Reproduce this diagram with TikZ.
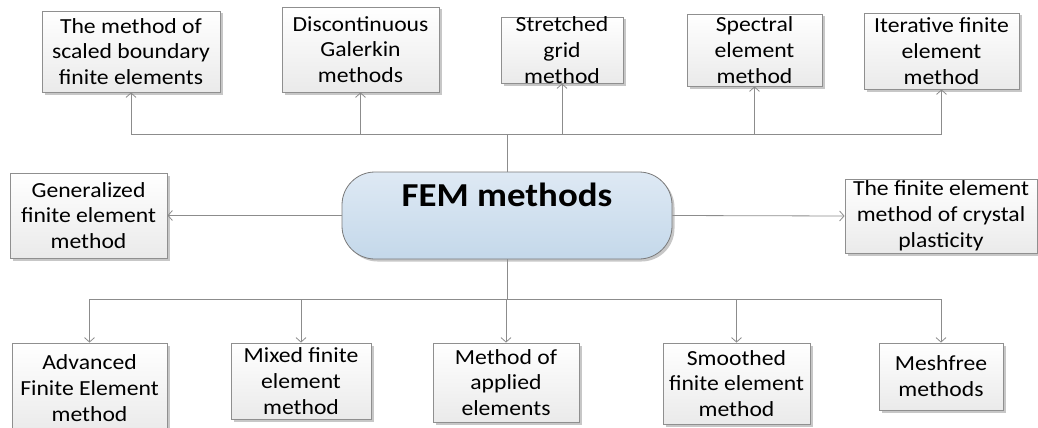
\documentclass[tikz,border=0pt]{standalone}
\usepackage{fontspec}
\setmainfont{Carlito}[FakeStretch=1.1]
\usetikzlibrary{arrows.meta,shadows}
\definecolor{lineg}{HTML}{8C8C8C}
\definecolor{boxb}{HTML}{8F8F8F}
\definecolor{boxbot}{HTML}{EAEAEA}
\definecolor{ctop}{HTML}{DEE9F4}
\definecolor{cbot}{HTML}{C4D8EA}
\definecolor{cbord}{HTML}{7A7A7A}
\tikzset{
  mbox/.style={draw=boxb, line width=0.8pt, inner sep=0pt, top color=white, bottom color=boxbot,
    drop shadow={shadow xshift=2.5pt, shadow yshift=-2.5pt, opacity=0.22, fill=black}},
  cbox/.style={draw=cbord, line width=0.8pt, inner sep=0pt, rounded corners=33pt, top color=ctop, bottom color=cbot,
    drop shadow={shadow xshift=2.5pt, shadow yshift=-2.5pt, opacity=0.22, fill=black}},
  txt/.style={align=center, inner sep=0pt, font=\fontsize{21.5}{25.8}\selectfont},
  ctxt/.style={inner sep=0pt, font=\fontsize{33.5}{40}\selectfont\bfseries},
  conn/.style={draw=lineg, line width=0.8pt},
  arr/.style={conn, -{Straight Barb[length=4.5pt, width=10pt, line width=0.8pt]}}
}
\begin{document}
\begin{tikzpicture}[x=1pt,y=-1pt]
\useasboundingbox (0,0) rectangle (1038,428);
% boxes
\node[mbox, minimum width=178pt, minimum height=81pt] (t1) at (131,51.5) {};
\node[mbox, minimum width=157pt, minimum height=85pt] (t2) at (360.5,49.5) {};
\node[mbox, minimum width=122pt, minimum height=66pt] (t3) at (562,50) {};
\node[mbox, minimum width=135pt, minimum height=72pt] (t4) at (754.5,50) {};
\node[mbox, minimum width=155pt, minimum height=76pt] (t5) at (941.5,51) {};
\node[mbox, minimum width=157pt, minimum height=85pt] (lf) at (88.5,215.5) {};
\node[mbox, minimum width=192pt, minimum height=74pt] (rt) at (941,216) {};
\node[cbox, minimum width=330pt, minimum height=87pt] (c) at (507,215.5) {};
\node[mbox, minimum width=155pt, minimum height=90pt] (b1) at (89.5,388) {};
\node[mbox, minimum width=140pt, minimum height=76pt] (b2) at (301,381) {};
\node[mbox, minimum width=146pt, minimum height=79pt] (b3) at (506,382.5) {};
\node[mbox, minimum width=147pt, minimum height=81pt] (b4) at (736.5,383.5) {};
\node[mbox, minimum width=124pt, minimum height=67pt] (b5) at (941,376.5) {};
% texts
\node[txt] (t1t) at (t1.center) {The method of\\scaled boundary\\finite elements};
\node[txt] (t2t) at (t2.center) {Discontinuous\\Galerkin\\methods};
\node[txt] (t3t) at (t3.center) {Stretched\\grid\\method};
\node[txt] (t4t) at (t4.center) {Spectral\\element\\method};
\node[txt] (t5t) at (t5.center) {Iterative finite\\element\\method};
\node[txt] (lft) at (lf.center) {Generalized\\finite element\\method};
\node[txt] (rtt) at (rt.center) {The finite element\\method of crystal\\plasticity};
\node[ctxt, anchor=base] (ct) at (507,206) {FEM methods};
\node[txt] (b1t) at (b1.center) {Advanced\\Finite Element\\method};
\node[txt] (b2t) at (b2.center) {Mixed finite\\element\\method};
\node[txt] (b3t) at (b3.center) {Method of\\applied\\elements};
\node[txt] (b4t) at (b4.center) {Smoothed\\finite element\\method};
\node[txt] (b5t) at (b5.center) {Meshfree\\methods};
% connectors
\coordinate (bt) at (507,134);
\coordinate (bb) at (507,299);
\draw[conn] (c.north) -- (bt);
\draw[conn] (c.south) -- (bb);
\foreach \n in {t1,t2,t3,t4,t5} {\draw[arr] (bt) -| (\n.south);}
\foreach \n in {b1,b2,b3,b4,b5} {\draw[arr] (bb) -| (\n.north);}
\draw[arr] (c.west) -- (lf.east);
\draw[arr] (c.east) -- (rt.west);
\end{tikzpicture}
\end{document}
